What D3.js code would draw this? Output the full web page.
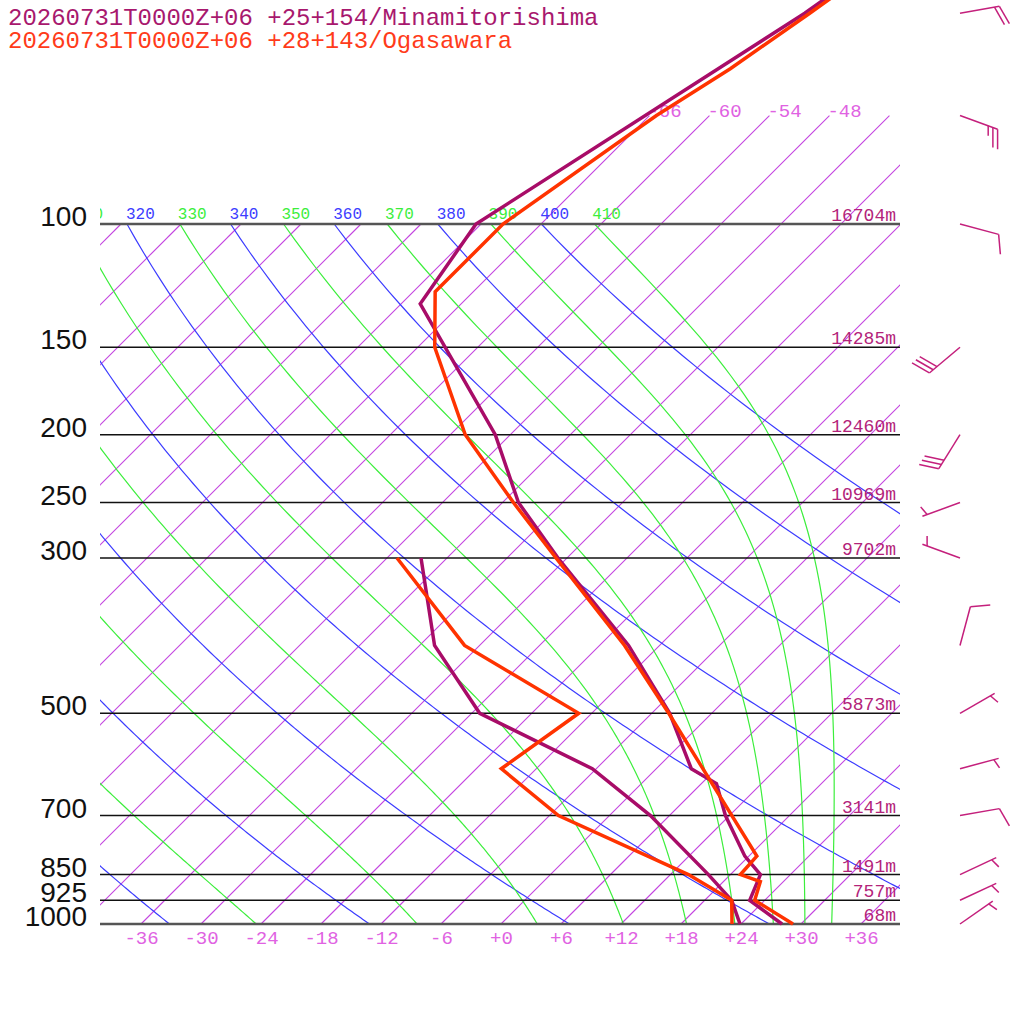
<!DOCTYPE html>
<html>
<head>
<meta charset="utf-8">
<script src="https://cdn.jsdelivr.net/npm/d3@7"></script>
<style>
  body { margin: 0; background: #fff; }
  svg { display: block; }
</style>
</head>
<body>
<div class="container"></div>
<script>
// ---- data ----
var stationNames = [
  "20260731T0000Z+06 +25+154/Minamitorishima",
  "20260731T0000Z+06 +28+143/Ogasawara"
];

// Minamitorishima (purple)
var minamiTempP = [30, 50, 100, 130, 200, 250, 300, 400, 500, 600, 630, 700, 800, 850, 925, 1000];
var minamiTemp  = [-54.5, -60.7, -72.5, -70.1, -49.5, -40.4, -30.9, -15.1, -4.2, 3.5, 7.5, 11.6, 17.6, 21.0, 22.5, 28.1];
var minamiDewP  = [300, 400, 500, 600, 700, 850, 925, 1000];
var minamiDew   = [-44.6, -34.5, -23.2, -6.4, 4.1, 15.8, 20.7, 23.9];

// Ogasawara (red)
var ogaTempP = [30, 50, 60, 70, 100, 125, 150, 200, 250, 300, 400, 500, 800, 850, 870, 925, 1000];
var ogaTemp  = [-54.0, -60.2, -62.6, -65.3, -69.8, -69.8, -64.3, -52.5, -40.9, -31.1, -15.5, -4.3, 18.8, 19.0, 21.7, 23.0, 29.2];
var ogaDewP  = [300, 400, 500, 600, 700, 850, 925, 1000];
var ogaDew   = [-47.0, -31.5, -13.3, -15.5, -5.1, 13.8, 20.7, 23.1];

// winds (Minamitorishima), direction in degrees, speed in knots
var windP     = [50, 70, 100, 150, 200, 250, 300, 400, 500, 600, 700, 850, 925, 1000];
var windDir   = [80, 110, 105, 230, 212, 250, 290, 15, 60, 75, 80, 65, 65, 55];
var windSpeed = [20, 25, 10, 30, 30, 5, 5, 10, 5, 5, 10, 5, 5, 5];

// standard levels and their heights
var levelP      = [100, 150, 200, 250, 300, 500, 700, 850, 925, 1000];
var levelHeight = [16704, 14285, 12460, 10969, 9702, 5873, 3141, 1491, 757, 68];

var tempTicks      = [-36, -30, -24, -18, -12, -6, 0, 6, 12, 18, 24, 30, 36];
var isothermLabels = [-66, -60, -54, -48];
var dryThetas      = [240, 260, 280, 300, 320, 340, 360, 380, 400];
var moistThetas    = [250, 270, 290, 310, 330, 350, 370, 390, 410];

(function(d3) {
  "use strict";

  var purple = "#a80c68";
  var red = "#ff3300";
  var isoColor = "#c444e0";
  var tickColor = "#e062e2";
  var blue = "#3c3cff";
  var green = "#3cee3c";
  var mono = "'Liberation Mono', 'DejaVu Sans Mono', monospace";

  var yScale = d3.scaleLog().domain([1000, 100]).range([924, 224]);
  var xScale = d3.scaleLinear().domain([-40, 40]).range([101, 901]);
  var isoTopP = 70;

  function skewX(t, p) {
    return xScale(t) + (yScale(1000) - yScale(p));
  }

  var line = d3.line()
      .x(function(d) { return skewX(d.t, d.p); })
      .y(function(d) { return yScale(d.p); });

  function zipProfile(ps, ts) {
    return ps.map(function(p, i) { return {p: p, t: ts[i]}; });
  }

  function thetaAt100(theta) {
    return theta * Math.pow(0.1, 0.2857) - 273.15;
  }

  function dryAdiabat(theta) {
    return d3.range(100, 1001, 5).map(function(p) {
      return {p: p, t: theta * Math.pow(p / 1000, 0.2857) - 273.15};
    });
  }

  // pseudo-adiabat, integrated down from 100 hPa where its theta is known
  function moistAdiabat(theta) {
    var Rd = 287.04, Cp = 1005.7, Lv = 2.501e6, eps = 0.622;
    var T = theta * Math.pow(0.1, Rd / Cp);
    var pts = [{p: 100, t: T - 273.15}];

    function dTdp(p, T) {
      var tc = T - 273.15;
      var es = 6.112 * Math.exp(17.67 * tc / (tc + 243.5));
      var rs = eps * es / (p - es);
      return (Rd * T + Lv * rs) / (Cp + Lv * Lv * rs * eps / (Rd * T * T)) / p;
    }

    var dp = 1;
    for (var p = 100; p < 1000; p += dp) {
      var k1 = dTdp(p, T);
      var k2 = dTdp(p + dp / 2, T + k1 * dp / 2);
      var k3 = dTdp(p + dp / 2, T + k2 * dp / 2);
      var k4 = dTdp(p + dp, T + k3 * dp);
      T += dp * (k1 + 2 * k2 + 2 * k3 + k4) / 6;
      if ((p + dp) % 5 === 0) pts.push({p: p + dp, t: T - 273.15});
    }
    return pts;
  }

  var svg = d3.select(".container").append("svg")
      .attr("width", 1024)
      .attr("height", 1024);

  svg.append("defs").append("clipPath")
      .attr("id", "plot-clip")
    .append("rect")
      .attr("x", 100)
      .attr("y", 0)
      .attr("width", 800)
      .attr("height", 926);

  var plot = svg.append("g").attr("clip-path", "url(#plot-clip)");

  // isotherms
  var isotherms = d3.range(-120, 42, 6);
  plot.append("g")
      .attr("class", "isotherms")
    .selectAll("line")
      .data(isotherms)
    .enter().append("line")
      .attr("x1", function(d) { return skewX(d, 1000); })
      .attr("y1", yScale(1000))
      .attr("x2", function(d) { return skewX(d, d >= isothermLabels[0] ? isoTopP : 100); })
      .attr("y2", function(d) { return yScale(d >= isothermLabels[0] ? isoTopP : 100); })
      .style("stroke", isoColor)
      .style("stroke-width", 1.1);

  // dry adiabats
  plot.append("g")
      .attr("class", "dry")
    .selectAll("path")
      .data(dryThetas)
    .enter().append("path")
      .attr("d", function(d) { return line(dryAdiabat(d)); })
      .style("fill", "none")
      .style("stroke", blue)
      .style("stroke-width", 1.2);

  // moist adiabats
  plot.append("g")
      .attr("class", "moist")
    .selectAll("path")
      .data(moistThetas)
    .enter().append("path")
      .attr("d", function(d) { return line(moistAdiabat(d)); })
      .style("fill", "none")
      .style("stroke", green)
      .style("stroke-width", 1.2);

  // theta labels along 100 hPa (only those that reach into the plot)
  var thetaLabels = dryThetas.map(function(d) { return {v: d, c: blue}; })
      .concat(moistThetas.map(function(d) { return {v: d, c: green}; }))
      .filter(function(d) { return skewX(thetaAt100(d.v), 100) > 70; });

  plot.append("g")
      .attr("class", "theta-labels")
    .selectAll("text")
      .data(thetaLabels)
    .enter().append("text")
      .attr("x", function(d) { return skewX(thetaAt100(d.v), 100) - 1; })
      .attr("y", yScale(100) - 5)
      .style("font-family", mono)
      .style("font-size", "16px")
      .style("fill", function(d) { return d.c; })
      .text(function(d) { return d.v; });

  // isotherm labels at the top
  plot.append("g")
      .attr("class", "iso-labels")
    .selectAll("text")
      .data(isothermLabels)
    .enter().append("text")
      .attr("x", function(d) { return skewX(d, isoTopP) - 2; })
      .attr("y", yScale(isoTopP) + 1)
      .style("font-family", mono)
      .style("font-size", "19px")
      .style("fill", tickColor)
      .text(function(d) { return d; });

  // pressure levels
  svg.append("g")
      .attr("class", "levels")
    .selectAll("line")
      .data(levelP)
    .enter().append("line")
      .attr("x1", 100)
      .attr("x2", 900)
      .attr("y1", function(d) { return yScale(d); })
      .attr("y2", function(d) { return yScale(d); })
      .style("stroke", function(d) { return (d === 100 || d === 1000) ? "#555" : "#111"; })
      .style("stroke-width", function(d) { return (d === 100 || d === 1000) ? 2.5 : 1.5; });

  // heights
  svg.append("g")
      .attr("class", "heights")
    .selectAll("text")
      .data(levelP)
    .enter().append("text")
      .attr("x", 896)
      .attr("y", function(d) { return yScale(d) - 3; })
      .attr("text-anchor", "end")
      .style("font-family", mono)
      .style("font-size", "18px")
      .style("fill", "#b3237a")
      .text(function(d, i) { return levelHeight[i] + "m"; });

  // pressure axis
  var pAxis = svg.append("g")
      .attr("transform", svgTranslateString(87, 0))
      .call(d3.axisLeft(yScale).tickValues(levelP).tickFormat(d3.format("d")).tickSize(0).tickPadding(0));
  pAxis.select(".domain").remove();
  pAxis.selectAll("text")
      .attr("dy", "0.06em")
      .style("font-family", "'Liberation Sans', Arial, sans-serif")
      .style("font-size", "28px")
      .style("fill", "#111");

  // temperature axis
  var tAxis = svg.append("g")
      .attr("transform", svgTranslateString(0, 924))
      .call(d3.axisBottom(xScale).tickValues(tempTicks)
        .tickFormat(function(d) { return (d >= 0 ? "+" : "") + d; })
        .tickSize(0).tickPadding(7));
  tAxis.select(".domain").remove();
  tAxis.selectAll("text")
      .style("font-family", mono)
      .style("font-size", "19px")
      .style("fill", tickColor);

  // soundings
  var profiles = svg.append("g").attr("clip-path", "url(#plot-clip)");
  var soundings = [
    {c: purple, d: zipProfile(minamiTempP, minamiTemp)},
    {c: purple, d: zipProfile(minamiDewP, minamiDew)},
    {c: red, d: zipProfile(ogaTempP, ogaTemp)},
    {c: red, d: zipProfile(ogaDewP, ogaDew)}
  ];
  profiles.selectAll("path")
      .data(soundings)
    .enter().append("path")
      .attr("d", function(d) { return line(d.d); })
      .style("fill", "none")
      .style("stroke", function(d) { return d.c; })
      .style("stroke-width", 3.5)
      .style("stroke-linejoin", "miter");

  // wind barbs
  var barbs = svg.append("g")
      .attr("class", "barbs")
      .attr("transform", svgTranslateString(960, 0));

  windP.forEach(function(p, i) {
    var y0 = yScale(p);
    var a = windDir[i] * Math.PI / 180;
    var ux = Math.sin(a), uy = -Math.cos(a);
    var len = 40;
    var tx = ux * len, ty = y0 + uy * len;
    var rot = 70 * Math.PI / 180;
    var vx = ux * Math.cos(rot) - uy * Math.sin(rot);
    var vy = ux * Math.sin(rot) + uy * Math.cos(rot);
    var g = barbs.append("g")
        .style("stroke", "#c4207c")
        .style("stroke-width", 1.5)
        .style("fill", "none");

    g.append("line")
        .attr("x1", 0).attr("y1", y0)
        .attr("x2", tx).attr("y2", ty);

    var spd = windSpeed[i];
    var full = Math.floor(spd / 10);
    var half = (spd % 10) >= 5 ? 1 : 0;
    var k = 0;
    for (var f = 0; f < full; f++, k++) {
      var bx = tx - ux * 5 * k, by = ty - uy * 5 * k;
      g.append("line")
          .attr("x1", bx).attr("y1", by)
          .attr("x2", bx + vx * 20).attr("y2", by + vy * 20);
    }
    if (half) {
      if (k === 0) k = 1;
      var hx = tx - ux * 5 * k, hy = ty - uy * 5 * k;
      g.append("line")
          .attr("x1", hx).attr("y1", hy)
          .attr("x2", hx + vx * 10).attr("y2", hy + vy * 10);
    }
  });

  // titles
  svg.append("g")
      .attr("class", "titles")
    .selectAll("text")
      .data(stationNames)
    .enter().append("text")
      .attr("x", 8)
      .attr("y", function(d, i) { return 25 + i * 23; })
      .style("font-family", mono)
      .style("font-size", "24px")
      .style("fill", function(d, i) { return i === 0 ? "#a8186e" : "#ff3b1a"; })
      .text(function(d) { return d; });

  function svgTranslateString(x, y) {
    return "translate(" + x + "," + y + ")";
  }

}(d3));
</script>
</body>
</html>
